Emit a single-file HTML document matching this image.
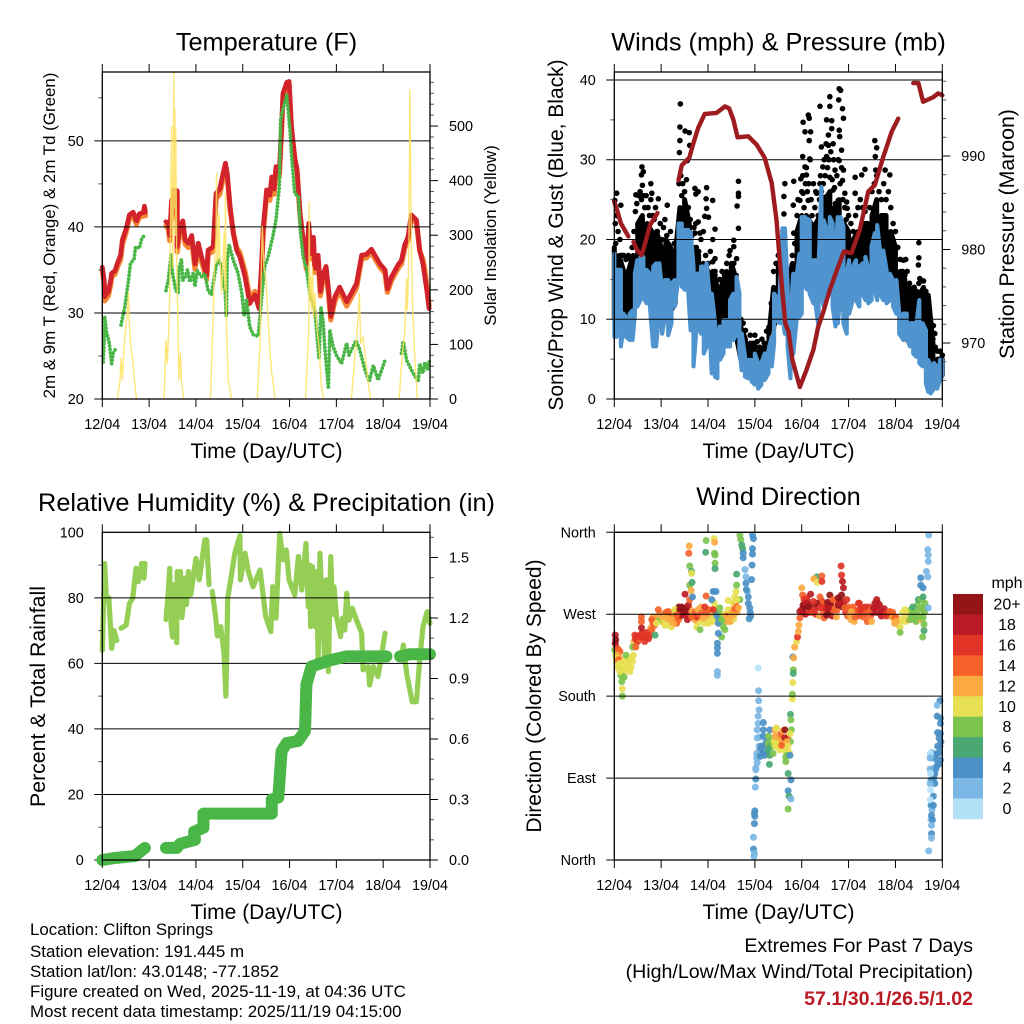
<!DOCTYPE html>
<html lang="en">
<head>
<meta charset="utf-8">
<title>Clifton Springs Station Meteogram</title>
<style>
html,body{margin:0;padding:0;background:#fff;}
svg{display:block;font-family:"Liberation Sans",Arial,sans-serif;fill:#000;}
</style>
</head>
<body>
<svg id="chart" xmlns="http://www.w3.org/2000/svg" width="1024" height="1024" viewBox="0 0 1024 1024">
<rect x="0" y="0" width="1024" height="1024" fill="#fff"/>
<text x="266.5" y="50.5" font-size="25.3" text-anchor="middle">Temperature (F)</text>
<text x="778.5" y="50.5" font-size="25.3" text-anchor="middle">Winds (mph) &amp; Pressure (mb)</text>
<text x="266.5" y="511" font-size="25.3" text-anchor="middle">Relative Humidity (%) &amp; Precipitation (in)</text>
<text x="778.5" y="505" font-size="25.3" text-anchor="middle">Wind Direction</text>
<text x="266.5" y="458" font-size="21" text-anchor="middle">Time (Day/UTC)</text>
<text x="778.5" y="458" font-size="21" text-anchor="middle">Time (Day/UTC)</text>
<text x="266.5" y="919" font-size="21" text-anchor="middle">Time (Day/UTC)</text>
<text x="778.5" y="919" font-size="21" text-anchor="middle">Time (Day/UTC)</text>
<text transform="translate(55,235.5) rotate(-90)" font-size="16.9" text-anchor="middle">2m &amp; 9m T (Red, Orange) &amp; 2m Td (Green)</text>
<text transform="translate(496,235.5) rotate(-90)" font-size="16.9" text-anchor="middle">Solar Insolation (Yellow)</text>
<text transform="translate(563,235) rotate(-90)" font-size="21" text-anchor="middle">Sonic/Prop Wind &amp; Gust (Blue, Black)</text>
<text transform="translate(1014,234) rotate(-90)" font-size="21.3" text-anchor="middle">Station Pressure (Maroon)</text>
<text transform="translate(45,696.5) rotate(-90)" font-size="21.3" text-anchor="middle">Percent &amp; Total Rainfall</text>
<text transform="translate(541,696) rotate(-90)" font-size="21" text-anchor="middle">Direction (Colored By Speed)</text>
<g font-size="16.9">
<text x="30" y="935">Location: Clifton Springs</text>
<text x="30" y="957">Station elevation: 191.445 m</text>
<text x="30" y="977">Station lat/lon: 43.0148; -77.1852</text>
<text x="30" y="997">Figure created on Wed, 2025-11-19, at 04:36 UTC</text>
<text x="30" y="1017">Most recent data timestamp: 2025/11/19 04:15:00</text>
</g>
<g font-size="19.6" text-anchor="end">
<text x="973" y="952">Extremes For Past 7 Days</text>
<text x="973" y="978">(High/Low/Max Wind/Total Precipitation)</text>
<text x="973" y="1005" font-weight="bold" fill="#bb1b24">57.1/30.1/26.5/1.02</text>
</g>
<text x="1007" y="588" font-size="16" text-anchor="middle">mph</text>
</svg>
<script>
// ---------- shared axis data ----------
const dayLabels = ['12/04','13/04','14/04','15/04','16/04','17/04','18/04','19/04'];

// ---------- temperature panel ----------
const tempTicks = [20,30,40,50];
const tempMinor = [25,35,45,55];
const solarTicks = [0,100,200,300,400,500];
const tempTime = [0,.04,.05,.13,.18,.20,.27,.32,.39,.43,.51,.58,.66,.73,.79,.88,.90,.92,null,
1.36,1.41,1.44,1.48,1.50,1.53,1.60,1.60,1.66,1.72,1.77,1.84,1.91,1.98,2.05,2.12,2.23,2.26,2.37,2.43,2.51,2.58,2.63,2.67,2.73,2.80,2.87,2.94,3.05,3.15,3.26,3.35,3.40,3.44,3.51,3.58,3.62,3.67,3.71,3.78,3.83,3.86,3.94,3.99,4.04,4.11,4.16,4.22,4.29,4.36,4.41,4.45,4.51,4.54,4.61,4.66,4.72,4.78,4.84,4.88,4.97,5.07,5.22,5.32,5.43,5.54,5.64,5.75,5.93,6.04,6.09,6.18,6.32,6.39,6.46,6.53,6.60,6.71,6.78,6.85,6.89,6.94,6.98];
const temp9m = [35.3,33.8,31.9,32.5,33.8,34.6,34.9,35.7,36.7,38.5,39.8,41.4,41.7,40.7,41.5,41.7,42.4,41.7,null,
40.6,40.4,39.0,43.1,41.5,44.3,44.2,37.7,40.0,40.7,38.5,38.1,39.0,35.7,38.1,36.5,34.4,37.3,37.7,43.9,44.4,46.2,47.4,46.2,42.3,39.2,37.3,36.5,34.2,31.1,32.1,30.5,35.4,40.0,44.3,43.7,45.8,44.4,47.0,46.2,51.6,55.5,56.8,56.9,51.6,48.1,46.6,41.9,38.5,35.7,40.4,36.9,38.8,35.2,36.7,32.5,34.6,35.4,32.3,29.6,31.9,33.0,31.3,32.3,33.4,36.7,36.8,37.4,35.7,35.0,32.8,34.2,35.6,36.1,37.9,38.8,41.4,40.8,37.3,35.7,34.2,32.3,30.5];
const temp2m = [35.0,33.3,31.4,32.0,33.3,34.2,34.5,35.3,36.2,38.0,39.4,41.0,41.3,40.3,41.1,41.3,42.0,41.3,null,
40.1,39.8,38.4,42.6,41.0,43.8,43.7,37.1,39.5,40.2,38.0,37.6,38.5,35.1,37.6,36.0,33.9,36.8,37.2,43.3,43.8,45.6,47.0,45.8,42.0,39.3,37.6,37.0,34.8,31.8,32.5,30.7,35.0,39.5,43.7,43.1,45.2,43.8,46.6,45.8,51.2,55.1,56.4,56.6,51.4,48.0,46.5,41.6,38.0,35.1,39.8,36.3,38.3,34.7,36.2,32.0,34.1,34.9,31.8,29.2,31.4,32.5,30.8,31.8,32.9,36.3,36.4,37.0,35.3,34.6,32.4,33.8,35.2,35.7,37.5,38.4,41.0,40.5,37.2,36.2,35.0,32.8,30.9];
const dewTime = [.02,.04,.05,.09,.15,.20,.23,.29,null,.40,.48,.56,.60,.68,.71,.79,.84,.91,null,
1.36,1.41,1.47,1.50,1.57,1.62,1.64,1.69,1.72,1.77,1.82,1.87,1.94,1.98,2.03,2.12,2.19,2.26,2.33,2.43,2.48,2.55,2.58,2.62,2.65,2.67,2.71,2.80,2.90,2.98,3.03,3.08,3.15,3.22,3.33,3.40,3.47,3.54,3.64,3.71,3.78,3.81,3.85,3.94,4.01,4.04,4.11,4.19,4.23,4.29,4.36,4.43,4.54,4.63,4.67,4.72,4.75,4.83,4.86,4.93,5.00,5.11,5.22,5.27,5.42,5.50,5.61,5.70,5.79,5.89,6.04,null,6.39,6.43,6.50,6.64,6.75,6.78,6.85,6.89,6.94,7.0];
const dewPoint = [24.3,26.8,29.6,27.8,26.5,24.1,25.3,25.9,null,28.6,30.7,33.8,35.7,36.3,37.7,37.5,38.6,39.1,null,
32.6,33.8,36.9,34.6,32.6,32.3,35.2,36.2,33.8,34.2,35.0,33.6,34.6,33.1,34.9,34.2,34.6,32.6,32.1,35.4,36.2,35.4,33.0,33.0,29.6,36.1,37.9,36.1,34.6,32.3,29.6,31.5,28.4,27.5,27.3,31.5,35.4,36.5,38.8,40.8,44.6,52.4,53.5,55.3,51.2,48.5,43.9,43.5,39.6,36.5,35.2,32.3,30.3,24.7,30.7,28.8,26.1,21.2,28.0,26.1,25.1,24.1,26.5,25.1,26.8,25.7,23.4,22.0,23.9,22.2,24.5,null,25.3,26.7,24.5,23.0,22.0,24.1,23.0,24.3,23.4,24.7];
const solarTime = [.32,.38,.40,.43,.47,.51,.53,.56,.58,.61,.65,.68,.73,null,
1.32,1.36,1.39,1.42,1.44,1.48,1.49,1.50,1.51,1.52,1.53,1.54,1.55,1.56,1.57,1.59,1.62,1.64,1.67,1.69,1.74,null,
2.31,2.36,2.40,2.43,2.44,2.45,2.47,2.49,2.51,2.55,2.58,2.60,2.62,2.63,2.65,2.69,2.76,null,
3.31,3.37,3.40,3.42,3.45,3.49,3.52,3.57,3.62,3.65,3.69,null,
4.34,4.38,4.40,4.41,4.42,4.43,4.45,4.47,4.49,4.51,4.54,4.58,4.63,4.68,4.73,null,
5.32,5.39,5.44,5.49,5.52,5.57,5.63,5.68,5.73,null,
6.34,6.41,6.46,6.50,6.51,6.53,6.55,6.57,6.59,6.61,6.63,6.68,6.73];
const solarFlux = [0,35,74,35,102,139,151,194,133,96,72,41,0,null,
0,108,65,132,194,499,300,316,240,470,598,350,530,300,493,254,108,35,84,35,0,null,
0,132,255,300,413,250,255,340,273,194,250,303,200,377,145,35,0,null,
0,102,255,316,242,224,181,102,47,29,0,null,
0,71,110,132,361,180,224,163,242,150,194,132,96,23,0,null,
0,71,120,194,102,114,71,29,0,null,
0,84,120,220,163,194,280,566,377,250,163,71,0];

// ---------- winds panel ----------
const windTicks = [0,10,20,30,40];
const windMinor = [5,15,25,35];
const pressureTicks = [970,980,990];
const pressureMinor = [966,968,972,974,976,978,982,984,986,988,992,994,996,998];
const gustCoreTime = [0,.1,.2,.3,.4,.5,.6,.7,.8,.9,1,1.1,1.2,1.3,1.4,1.5,1.6,1.7,1.8,1.9,2,2.1,2.2,2.3,2.4,2.5,2.6,2.7,2.8,2.9,3,3.1,3.2,3.3,3.4,3.5,3.6,3.7,3.8,3.9,4,4.1,4.2,4.3,4.4,4.5,4.6,4.7,4.8,4.9,5,5.1,5.2,5.3,5.4,5.5,5.6,5.7,5.8,5.9,6,6.1,6.2,6.3,6.4,6.5,6.6,6.7,6.8,6.9,7];
const gustCoreHigh = [19,18,16,16,18,22,23,22,21,21,19,20,19,18,24,25,22,19,18,17,16,16,14,14.5,16,17,15,9,7.5,7,7,6,6.5,8,14,17,18,14,17,21,23,23,22,22,23,25,26,24,25,22,21,20,21,22,22,23,25,23,23,21,19,16,15,14,13,13,14,13,7,5,5];
const gustCoreLow = [10,10,9,9,10,14,15,14,13,11,11,11,11,12,17,17,15,11,9,9,9,8,6,6,7,8,8,5,4,4,3,3,4,5,9,11,13,8,7,11,16,17,17,14,17,16,17,14,15,11,12,14,14,14,14,14,15,15,15,14,13,10,8,7,7,7,7,5,3,2,3];
const gustFillTime = [.02,.05,.08,.12,.03,.15,.2,.25,.3,.35,.38,.42,.45,.48,.52,.55,.58,.62,.65,.68,.72,.75,.78,.82,.85,.88,.92,.95,.98,1.02,1.05,1.08,1.12,1.16,1.2,1.24,1.28,1.32,
1.38,1.42,1.46,1.5,1.44,1.54,1.48,1.58,1.62,1.66,1.7,1.75,1.8,1.85,1.9,1.95,2.0,2.05,2.1,2.15,
2.25,2.3,2.35,2.4,2.45,2.5,2.55,2.6,2.65,2.7,2.75,2.8,2.9,3,3.05,3.1,3.15,3.2,3.25,3.3,3.35,3.4,3.45,3.5,3.55,3.6,3.65,3.7,3.75,3.8,3.85,
3.9,3.92,3.95,4.0,4.02,4.05,4.08,4.1,4.12,4.15,4.18,4.2,4.22,4.28,4.3,4.35,4.38,4.4,4.42,4.46,4.48,4.5,4.52,4.55,4.58,4.62,4.65,4.68,4.7,4.72,4.75,4.78,4.82,4.85,4.88,4.92,4.95,5,5.05,5.1,5.15,5.2,5.25,5.3,5.35,5.4,5.45,5.5,5.55,5.6,5.65,5.7,5.75,5.8,5.85,5.9,5.95,6,6.05,6.1,6.15,6.2,6.25,6.3,6.35,6.4,6.45,6.5,6.55,6.6,6.65,6.7,6.75,6.8,6.85,6.9,6.95,7];
const gustFillSpeed = [22,23,21,20,19.5,18,18,17.5,18,17.5,19,21,23.5,24.5,25.5,26,25,25.5,24,25.5,24,23,25,23,22.5,24,21,19.5,22,20,21.5,22.5,20.5,19,21,18.5,19.5,18,
27,28,27,26,25.5,27.5,23,24,22.5,20.5,21.5,19,18.5,20,21,18,17,18.5,17.2,15.5,
15,16,15.5,17,18,16.5,17,15.5,13,10,9.5,8.6,8,8,7.2,6.5,7.5,7,8.5,9,12,16,17,18,20,21,16,13,16,18,19.5,
23,25,21,26,28,24,27,29,26,27,30,25,23,24,26,23,25,28,26,27,30,28,32,29,30,31,27.5,30,26.5,24.5,28,30,27,29,25,24,22.5,23,22,21,23,24,25,24,23.5,22,24,26,27,28,26,25,27,25,26,24,22,21,19,17.5,16,15.5,16,14.5,13,14,13.5,14.5,13,14.8,13.5,11,8.5,7.5,6.5,6,6,5.5];
const gustTime = [1.41,1.40,1.51,1.60,1.40,1.39,1.61,1.56,1.72,1.79,1.97,1.96,1.74,1.97,2.10,1.93,2.01,1.74,1.79,2.15,2.10,1.83,1.72,2.65,2.65,2.65,2.62,2.65,2.55,2.55,2.47,2.61,2.15,2.15,3.64,3.62,3.83,3.98,3.82,3.62,3.83,.59,.62,.58,.60,.78,.46,.05,.01,.14,.94,1.13,.80,4.03,4.14,4.16,4.07,4.19,4.16,4.02,4.39,4.60,4.60,4.80,4.83,4.79,4.87,4.89,4.53,4.64,4.64,4.80,4.81,4.57,4.42,4.57,4.67,4.53,4.45,4.17,4.07,4.10,4.25,4.85,4.80,4.89,4.87,5.56,5.60,5.57,5.14,5.28,5.35,5.58,5.78,5.88,5.14,4.96,4.97,6.50,6.50,6.49,6.81,6.84,6.52,6.17,6.22,4.60,4.71,4.39,4.03,4.14,4.32,4.67,4.50,4.78,4.92,3.96];
const gustSpeed = [37.0,34.1,33.6,33.4,32.4,30.9,31.8,29.9,26.4,26.0,26.5,25.1,25.7,23.9,24.9,22.9,22.8,22.0,22.2,21.3,20.0,20.8,20.8,27.3,25.8,25.4,24.2,21.4,19.9,19.1,18.6,17.6,17.6,16.0,27.0,25.4,27.3,27.6,24.3,23.2,20.8,29.1,28.5,28.1,26.8,27.0,25.6,25.8,24.9,24.3,25.1,24.3,25.8,34.7,35.6,35.2,33.5,33.5,32.4,30.4,36.7,37.9,36.7,38.9,38.7,37.5,36.4,35.2,35.0,34.9,33.9,33.7,32.9,33.1,31.6,31.8,32.0,30.4,29.1,30.1,29.1,28.1,27.0,31.2,29.9,28.7,27.4,32.4,31.5,30.4,27.8,28.1,28.8,28.7,28.7,28.1,25.8,24.7,23.9,19.6,17.7,16.8,9.2,8.2,15.1,17.4,17.5,27.8,28.7,27.0,25.8,24.9,25.8,26.2,25.3,24.9,25.8,24.9];
const windTime = [0,.05,.14,.19,.25,.33,.39,.44,.49,.56,.62,.69,.76,.83,.89,.96,1.02,1.08,1.15,1.22,1.29,1.37,1.44,1.51,1.58,1.63,1.69,1.74,1.79,1.85,1.91,1.97,2.03,2.08,2.15,2.20,2.25,2.33,2.40,2.47,2.54,2.61,2.67,2.72,2.79,2.86,2.93,3.00,3.07,3.14,3.21,3.29,3.36,3.41,3.46,3.53,3.59,3.64,3.70,3.76,3.82,3.89,3.95,4.00,4.07,4.12,4.17,4.25,4.30,4.36,4.42,4.47,4.53,4.60,4.66,4.72,4.77,4.83,4.89,4.96,5.01,5.09,5.16,5.23,5.30,5.36,5.42,5.49,5.56,5.61,5.67,5.74,5.81,5.88,5.95,6.02,6.08,6.17,6.24,6.31,6.38,6.45,6.51,6.58,6.65,6.70,6.75,6.82,6.89,6.95,7.00];
const windHigh = [18.2,16.2,16.2,10.7,10.3,10.7,11.1,15.7,17.4,17.8,17.8,16.2,15.7,16.6,17,17,13.7,14.9,14.9,14.5,14.9,22,22,21.2,21.2,20.9,16.6,15.7,15.7,16.6,16.6,17,13.2,13.2,9.5,7.8,9.1,9.9,9.9,12.4,13.2,15.3,13.2,8.2,5.3,4.9,4.9,5.7,4.5,4.5,5.7,6.1,7.8,13.2,12.8,13.2,21.4,21.4,14.1,10.3,15.7,15.3,18.2,22.8,22.8,22.6,22.4,17.4,17.4,16.6,26.6,22.4,21.2,22.8,22,18.2,22.8,22.8,21.6,15.7,17.4,16.6,17.4,16.6,17,17.8,16.2,19.1,20.8,21.8,18.6,18.6,16.2,15.7,14.9,14.9,10.7,10.7,10.7,9.5,9.5,9.5,12.4,9.5,8.6,4.9,4.1,4.5,4.1,4.9,4.9];
const windLow = [7.8,7.8,6.6,8.6,7.8,7.4,7.4,10.7,11.6,12.4,12.8,12,11.6,6.6,6.6,10.7,8.2,10.3,8,9.5,11.6,15.3,14.1,13.7,13.2,8.6,4.1,7.8,9.1,8.2,5.7,6.6,9.1,3.2,2.8,2.6,4.9,5.7,6.6,6.6,7.4,8.2,6.1,3.6,2.8,2.6,2.2,1.8,1.3,1.8,2.4,3.2,4.1,7,9.9,9.5,10.3,8.2,6.6,2.6,5.7,9.9,10.3,10.7,14.1,13.7,13.2,12,11.6,9.1,13.2,11.6,13.2,14.1,11.6,9.1,9.5,13.2,9.5,8.2,10.7,12.4,12.4,11.6,13.2,12.4,12,12.4,13.7,12.4,13.2,12.4,12,12.4,11.6,10.7,8.2,7.4,7.8,6.6,5.7,5.3,4.5,4.1,2,.9,.7,1.3,1.3,2.4,2.8];
const pressureTime = [0,.06,.14,.21,.30,null,.41,.49,.58,.65,.76,.92,null,1.37,1.44,1.60,1.69,1.79,1.93,2.18,2.36,2.45,2.54,2.63,2.86,3.04,3.21,3.36,3.46,3.53,3.59,3.65,3.72,3.80,3.96,4.10,4.25,4.35,4.46,4.60,4.78,4.90,5.06,5.24,5.42,5.56,5.74,5.92,6.06,null,6.38,6.49,6.59,6.81,6.91,7.0];
const pressureMb = [985.1,984.2,982.8,982.2,981.4,null,980.8,979.9,979.4,980.5,982.6,983.9,null,987.4,989.0,989.8,991.4,993.0,994.5,994.6,995.3,995.1,993.9,992.0,992.1,991.2,989.8,987.1,983.2,978.9,975.3,972.1,971.2,968.2,965.3,967.1,969.3,971.7,973.3,975.7,978.2,979.8,979.6,982.1,986.2,986.9,989.9,992.6,994.0,null,997.8,997.8,995.8,996.3,996.7,996.5];

// ---------- humidity panel ----------
const humidityTicks = [0,20,40,60,80,100];
const humidityMinor = [10,30,50,70,90];
const rainTicks = [0,.3,.6,.9,1.2,1.5];
const rainTickLabels = ['0.0','0.3','0.6','0.9','1.2','1.5'];
const rainMinor = [.1,.2,.4,.5,.7,.8,1,1.1,1.3,1.4,1.6];
const humidityTime = [0,.05,.09,.14,.20,.25,.31,null,.40,.51,.58,.65,.72,.77,.84,.91,.89,null,
1.36,1.40,1.44,1.47,1.50,1.53,1.59,1.60,1.64,1.67,1.70,1.72,1.76,1.80,1.84,1.89,2.00,2.07,2.19,2.23,2.28,null,2.35,2.43,2.46,2.53,2.60,2.64,2.68,2.76,2.83,2.94,2.95,3.05,3.12,3.22,3.37,3.49,3.60,3.64,3.71,3.79,3.86,3.93,3.99,4.11,4.19,4.26,4.35,4.38,4.40,4.43,4.45,4.49,4.52,4.55,4.58,4.61,4.65,4.68,4.72,4.75,4.78,4.80,4.83,4.88,4.92,4.95,5.00,5.09,5.13,5.18,5.22,5.27,5.34,5.43,5.54,5.57,5.68,5.71,5.79,5.89,6.04,null,6.39,6.43,6.50,6.62,6.71,6.78,6.85,6.94,7];
const humidityPct = [64,90.5,79,80,64.6,70,67,null,70.7,71.7,78.3,79.9,89,85,90.5,90.5,86,null,
73.4,80,89,72,68,84,66.3,88,84,88,74,76.3,86,78,88,81,92,85.5,97.7,97.7,84,null,82,73,68.4,71.2,63,50,80,87,93.6,99,85.5,93.6,88,83.4,88.5,74.3,69.7,83.4,73.8,99.7,91.6,94.6,85.5,80.9,92.6,82.4,96.6,85,77.3,90,71.2,89.5,78,71.2,88,60,93.6,82,73.2,60,85.5,70,57.5,92.6,75,83.4,74.3,68.2,73.8,70.2,81.4,73.2,76.8,73.2,69.2,58,59,53.4,59,56,69.2,null,61,65.6,57,48.3,48.3,61,71.2,75.8,72.2];
const rainTime = [0,.27,.70,.80,.91,null,1.36,1.59,1.66,1.98,1.96,2.16,2.16,3.62,3.62,3.76,3.83,3.94,4.18,4.33,4.36,4.47,4.86,5.22,6.07,null,6.36,6.57,7.0];
const rainTotal = [0,.01,.02,.04,.06,null,.06,.06,.08,.10,.14,.16,.23,.23,.30,.31,.54,.58,.59,.64,.87,.96,.99,1.01,1.01,null,1.01,1.02,1.02];

// ---------- direction panel ----------
const directionTicks = [0,90,180,270,360];
const directionLabels = ['North','East','South','West','North'];
const dirFillTime = [.03,.05,.08,.11,.13,.15,.18,.2,.23,.27,.3,.33,.36,.39,.42,.45,.5,.53,.57,.6,.65,.7,.73,.78,.82,.86,.9,.93,.97,1.0,1.03,1.07,1.1,1.13,1.17,1.2,1.24,1.27,1.3,1.33,1.36,1.38,1.42,1.45,1.49,1.53,1.57,1.6,1.63,1.68,1.72,1.75,1.78,1.82,1.85,1.88,1.92,1.95,1.99,2.02,2.06,2.1,2.13,2.17,2.22,2.25,2.28,2.32,2.35,2.38,2.42,2.45,2.48,2.52,2.55,2.58,2.62,
3.1,3.12,3.15,3.2,3.24,3.26,3.28,3.34,3.36,3.38,3.41,3.44,3.48,3.5,3.52,3.55,3.58,3.6,3.62,3.65,3.7,3.73,3.76,3.68,3.06,3.09,3.05,
4.0,4.03,4.06,4.08,4.12,4.16,4.2,4.22,4.27,4.3,4.35,4.38,4.42,4.45,4.48,4.52,4.55,4.58,4.62,4.65,4.7,4.72,4.75,4.78,4.82,4.87,4.9,4.94,4.98,5.02,5.05,5.09,5.12,5.16,5.2,5.23,5.27,5.32,5.36,5.4,5.43,5.47,5.52,5.56,5.6,5.66,5.7,5.76,5.8,5.84,5.9,5.94,5.98,6.03,6.07,6.12,6.16,6.22,6.26,6.28,6.33,6.38,6.4,6.44,6.47,6.5,6.53,6.56,6.6,6.62,
6.85,6.9,6.92,6.8,6.78,6.76,6.82,6.86,6.94,6.97,6.9,6.77,6.78,6.74,6.76,6.78,6.76,2.88,2.9,2.84];
const dirFillDegrees = [225,218,212,222,210,205,212,207,214,222,210,220,212,218,240,243,240,243,245,250,240,250,243,255,262,258,262,268,270,262,268,260,272,258,266,270,262,272,264,260,272,278,268,272,270,270,272,268,275,270,272,263,266,262,278,268,260,272,262,275,268,262,283,272,268,262,270,262,270,268,262,270,262,275,265,282,272,
135,125,118,125,130,118,128,125,132,125,130,125,135,125,132,138,130,142,125,120,135,118,130,115,115,125,107,
275,272,278,270,285,272,280,272,275,270,278,268,285,282,266,275,283,272,280,268,276,285,274,280,285,278,283,272,268,276,264,278,262,274,268,282,270,276,270,262,278,268,272,282,272,280,268,276,268,272,268,272,260,266,258,262,272,262,272,264,275,266,272,262,280,268,264,278,275,272,
115,125,105,100,95,88,92,100,118,130,140,112,118,100,60,55,45,265,272,295];
const dirFillSpeed = [10,12,10,12,8,10,10,10,10,10,10,8,10,10,12,16,16,14,16,16,16,16,16,12,12,14,12,12,12,10,14,12,14,10,12,14,10,12,14,14,16,20,18,20,20,18,14,16,12,12,14,12,14,10,12,12,10,14,10,14,10,10,10,6,6,8,8,8,10,12,12,14,12,12,10,14,12,
2,4,4,4,4,4,8,6,8,8,10,10,12,10,12,14,12,12,12,10,14,10,8,8,2,2,2,
18,20,20,18,18,16,20,14,16,16,18,12,16,14,14,20,20,20,20,18,14,14,14,20,20,20,18,16,14,14,12,14,12,14,14,16,16,16,16,14,16,14,18,18,18,18,18,18,16,16,14,14,12,12,12,10,10,10,10,12,8,8,8,8,8,10,12,8,8,8,
4,4,4,4,4,4,4,4,4,4,4,2,2,2,4,2,2,4,4,2];
const dirTime = [.02,.03,.02,.01,.05,.09,.12,.06,.04,.09,.11,.06,.16,.21,.25,.30,.37,.41,.26,.33,.14,.21,.16,.17,.17,.12,.39,.46,.44,.48,.55,.58,.58,.58,.62,.69,.76,.80,.87,.83,.90,.94,.97,1.05,1.12,1.15,1.22,1.22,1.29,1.29,1.37,1.40,1.47,1.54,1.58,1.51,1.40,1.56,1.61,1.67,1.72,1.76,1.76,1.79,1.83,1.86,1.96,1.93,1.97,2.04,2.01,2.11,2.17,2.08,2.15,2.11,2.18,2.22,2.25,2.29,2.33,2.36,2.29,2.22,2.20,2.20,2.20,2.20,2.20,2.43,2.43,2.50,2.54,2.57,2.61,2.57,2.60,2.61,2.61,2.68,2.65,
.83,.80,.90,1.01,1.08,1.19,1.26,1.33,1.44,1.51,1.65,1.83,1.90,2.08,2.47,2.54,2.61,
1.60,1.59,1.61,1.65,1.65,1.61,1.66,1.64,1.96,1.95,2.13,2.14,2.14,2.15,2.15,2.15,2.68,2.70,2.72,2.74,2.75,2.75,2.95,2.97,2.95,2.95,2.94,2.93,2.79,2.81,2.81,2.82,2.86,2.86,2.89,2.91,
3.07,3.08,3.08,3.09,3.07,3.07,3.05,3.05,3.18,3.18,3.18,3.14,3.11,3.04,3.04,3.12,3.21,3.32,3.29,3.29,3.32,3.31,3.43,3.46,3.43,3.46,3.39,3.53,3.57,3.64,3.64,3.68,3.71,3.78,3.75,3.66,3.66,3.75,3.71,3.77,3.71,3.73,3.77,3.71,3.76,3.77,3.02,3.02,3.02,3.01,3.00,2.99,3.00,2.99,2.97,2.97,2.99,2.98,
3.80,3.80,3.81,3.82,3.82,3.81,3.83,3.85,3.89,3.91,3.93,3.94,3.96,3.96,
4.18,4.32,4.39,4.46,4.50,4.67,4.81,4.92,5.03,5.10,5.17,5.28,5.31,5.45,5.53,5.63,5.74,5.92,5.95,6.13,6.24,6.34,6.45,6.52,4.03,4.10,
4.00,4.02,4.05,4.09,4.14,4.19,4.25,4.32,4.26,4.33,4.43,4.43,4.39,4.42,4.53,4.60,4.60,4.57,4.67,4.74,4.78,4.85,4.84,4.85,4.87,4.89,4.99,4.96,5.06,5.14,5.21,5.24,5.35,5.38,5.49,5.60,5.60,5.70,5.81,5.88,5.99,6.02,6.10,6.10,6.20,6.20,6.31,6.37,6.42,6.49,6.49,6.56,6.63,6.59,6.61,6.61,6.58,6.70,
6.71,6.69,6.70,6.70,6.66,6.69,6.54,6.54,6.59,6.59,
6.95,6.89,6.89,6.96,6.96,6.96,6.93,6.95,6.89,6.96,6.88,6.88,6.84,6.81,6.84,6.74,6.74,6.74,6.75,6.75,6.81,6.74,6.81,6.77,6.79,6.77,6.77,6.77,6.71];
const dirDegrees = [247,242,238,231,233,231,229,225,222,220,216,212,216,218,225,218,223,225,212,207,203,201,196,188,180,207,234,234,247,245,247,255,262,267,245,245,247,253,247,260,267,275,264,264,266,273,256,264,267,275,264,275,277,277,280,292,269,264,286,289,264,267,256,275,253,271,290,278,271,267,260,295,295,286,278,275,267,260,277,264,256,253,245,249,238,233,227,207,203,275,285,271,282,275,278,289,295,302,314,286,277,
267,264,260,267,258,264,260,269,278,273,267,269,266,264,266,269,286,
345,337,323,317,315,302,305,296,351,338,353,349,337,335,326,320,357,352,346,342,337,332,357,353,342,336,324,308,319,311,304,297,289,282,277,268,
211,186,175,165,158,150,143,134,151,143,136,125,121,117,112,114,115,143,136,121,115,105,143,145,136,128,117,121,126,143,134,130,125,143,139,113,108,115,95,88,76,70,67,56,160,154,101,99,89,80,54,51,48,40,25,12,7,4,
177,182,195,209,205,223,222,234,240,245,251,258,266,273,
275,282,277,271,277,275,282,277,269,274,271,276,267,275,277,282,271,269,266,264,271,269,269,267,280,288,
299,291,286,282,278,292,284,311,309,305,312,306,289,278,269,291,282,277,286,267,288,291,323,313,306,299,278,286,273,267,282,275,278,271,262,286,278,273,271,273,267,262,256,250,275,267,264,278,264,275,286,286,282,266,259,252,245,277,
357,341,335,328,317,311,310,302,299,289,
175,170,158,156,150,139,134,125,117,110,110,103,95,88,84,84,117,112,95,77,70,66,60,49,44,38,29,24,10];
const dirSpeed = [18,20,20,8,16,14,14,12,10,14,10,10,10,10,8,10,10,10,10,10,8,8,8,10,8,10,8,14,16,16,16,18,14,14,16,16,16,14,6,14,12,14,8,10,12,14,10,12,12,10,14,20,20,20,18,18,18,18,14,4,12,16,10,12,8,14,14,16,14,12,10,4,4,4,10,16,4,4,8,8,8,8,8,4,4,4,4,2,2,10,10,12,10,14,14,10,10,8,6,8,12,
12,14,10,12,10,12,12,14,20,20,14,14,12,10,12,12,10,
12,14,8,6,10,8,6,12,8,6,10,12,8,8,8,6,8,8,6,6,4,4,4,4,4,4,4,4,2,2,4,4,4,4,4,4,
0,2,2,2,2,2,2,2,4,4,4,4,4,2,2,4,4,4,8,6,6,6,12,10,12,10,8,10,14,20,18,12,10,8,10,8,8,4,6,4,4,6,2,8,6,8,2,2,4,2,4,4,4,4,2,4,2,2,
10,8,10,8,6,4,12,12,10,16,12,12,14,18,
16,20,16,14,18,14,18,14,12,14,14,16,14,14,18,18,16,14,12,10,10,8,8,8,20,16,
12,14,16,18,20,18,16,6,12,10,14,16,14,16,20,20,20,18,14,12,20,20,16,16,18,18,14,16,12,14,16,16,16,14,12,18,18,18,16,14,14,12,10,8,10,10,8,6,8,8,6,8,8,8,8,6,8,2,
2,2,2,2,2,2,4,4,4,6,
4,2,4,4,4,4,4,4,4,4,4,4,4,4,4,2,0,2,0,0,4,0,4,4,4,2,4,2,2];

// ---------- colorbar ----------
const speedLevels = [20,18,16,14,12,10,8,6,4,2,0];
const speedLabels = ['20+','18','16','14','12','10','8','6','4','2','0'];
const speedColors = ['#931518','#bb1b24','#e13427','#f4622a','#fbaa42','#e7e054','#7cc34e','#4aa872','#4b90c6','#7bb7e4','#b3e2f8'];

// ---------- drawing helpers ----------
const NS = 'http://www.w3.org/2000/svg';
const root = document.getElementById('chart');
function mk(tag, attrs, parent) {
  const e = document.createElementNS(NS, tag);
  for (const k in attrs) e.setAttribute(k, attrs[k]);
  (parent || root).appendChild(e);
  return e;
}
function linear(d0, d1, r0, r1) {
  return function (v) { return r0 + (v - d0) * (r1 - r0) / (d1 - d0); };
}
function linePath(ts, vs, xf, yf) {
  let d = '', pen = false;
  const n = Math.min(ts.length, vs.length);
  for (let i = 0; i < n; i++) {
    if (ts[i] === null || vs[i] === null) { pen = false; continue; }
    d += (pen ? 'L' : 'M') + xf(ts[i]).toFixed(2) + ' ' + yf(vs[i]).toFixed(2);
    pen = true;
  }
  return d;
}
function zigzagPath(ts, highs, lows, xf, yf) {
  let d = '';
  const n = Math.min(ts.length, highs.length, lows.length);
  for (let i = 0; i < n; i++) {
    const a = i % 2 ? lows[i] : highs[i];
    const b = i % 2 ? highs[i] : lows[i];
    d += (i ? 'L' : 'M') + xf(ts[i]).toFixed(2) + ' ' + yf(a).toFixed(2);
    d += 'L' + xf(ts[i]).toFixed(2) + ' ' + yf(b).toFixed(2);
  }
  return d;
}
function drawFrameAndDays(L, R, T, B, xf, labelY) {
  const frame = mk('rect', {x: L, y: T, width: R - L, height: B - T, fill: 'none', stroke: '#000', 'stroke-width': 1.3});
  
  
  dayLabels.forEach(function (lab, i) {
    const px = xf(i);
    const top = mk('line', {x1: px, x2: px, y1: T - 8, y2: T, stroke: '#000', 'stroke-width': 1});
    
    
    const bottom = mk('line', {x1: px, x2: px, y1: B, y2: B + 8, stroke: '#000', 'stroke-width': 1});
    
    
    const t = mk('text', {x: px, y: labelY, 'font-size': 14.4, 'text-anchor': 'middle'});
    t.textContent = lab;
    
    
  });
}
function drawGrid(values, L, R, yf) {
  values.forEach(function (v) {
    const py = yf(v);
    const g = mk('line', {x1: L - 8, x2: R, y1: py, y2: py, stroke: '#000', 'stroke-width': 1});
    
    
  });
}
function drawLeftLabels(values, labels, L, yf) {
  values.forEach(function (v, i) {
    const t = mk('text', {x: L - 18.5, y: yf(v) + 5, 'font-size': 14.4, 'text-anchor': 'end'});
    t.textContent = labels ? labels[i] : String(v);
    
    
  });
}
function drawMinorLeft(values, L, yf) {
  values.forEach(function (v) {
    const m = mk('line', {x1: L - 4, x2: L, y1: yf(v), y2: yf(v), stroke: '#555', 'stroke-width': 1});
    
    
  });
}
function drawRight(values, labels, minors, R, yf) {
  values.forEach(function (v, i) {
    const py = yf(v);
    const tick = mk('line', {x1: R, x2: R + 8, y1: py, y2: py, stroke: '#000', 'stroke-width': 1});
    
    
    const t = mk('text', {x: R + 19, y: py + 5, 'font-size': 14.4});
    t.textContent = labels ? labels[i] : String(v);
    
    
  });
  minors.forEach(function (v) {
    const m = mk('line', {x1: R, x2: R + 4, y1: yf(v), y2: yf(v), stroke: '#555', 'stroke-width': 1});
    
    
  });
}

// ---------- panel 1: temperature ----------
(function () {
  const L = 102.3, R = 430, T = 72, B = 399;
  const x = linear(0, 7, L, R);
  const y = linear(20, 58, B, T);
  const ySolar = linear(0, 599, B, T);
  const orange = mk('path', {d: linePath(tempTime, temp2m, x, y), fill: 'none', stroke: '#f58634', 'stroke-width': 5.2, 'stroke-linejoin': 'round', 'stroke-linecap': 'round'});
  
  
  const red = mk('path', {d: linePath(tempTime, temp9m, x, y), fill: 'none', stroke: '#d2232a', 'stroke-width': 4.8, 'stroke-linejoin': 'round', 'stroke-linecap': 'round'});
  
  
  const dew = mk('path', {d: linePath(dewTime, dewPoint, x, y), fill: 'none', stroke: '#4bb648', 'stroke-width': 3.8, 'stroke-linecap': 'round', 'stroke-dasharray': '0 3.6'});
  
  
  drawGrid([30,40,50], L, R, y);
  const tick20 = mk('line', {x1: L - 8, x2: L, y1: y(20), y2: y(20), stroke: '#000', 'stroke-width': 1});
  
  
  drawMinorLeft(tempMinor, L, y);
  drawLeftLabels(tempTicks, null, L, y);
  const solar = mk('path', {d: linePath(solarTime, solarFlux, x, ySolar), fill: 'none', stroke: '#fde25f', 'stroke-width': 1.4, 'stroke-linejoin': 'round', opacity: .85});
  
  
  const solarMinor = [];
  for (let v = 20; v <= 580; v += 20) { if (v % 100) solarMinor.push(v); }
  drawRight(solarTicks, null, solarMinor, R, ySolar);
  drawFrameAndDays(L, R, T, B, x, 429);
})();

// ---------- panel 2: winds & pressure ----------
(function () {
  const L = 614.3, R = 942.3, T = 72, B = 399;
  const x = linear(0, 7, L, R);
  const y = linear(0, 41, B, T);
  const yP = linear(970, 990, 343, 156);
  const core = mk('path', {d: zigzagPath(gustCoreTime, gustCoreHigh, gustCoreLow, x, y), fill: 'none', stroke: '#000', 'stroke-width': 5, 'stroke-linejoin': 'round', 'stroke-linecap': 'round'});
  
  
  gustFillTime.forEach(function (t, i) {
    const dot = mk('circle', {cx: x(t), cy: y(gustFillSpeed[i]), r: 2.8, fill: '#000'});
    
    
  });
  gustTime.forEach(function (t, i) {
    const dot = mk('circle', {cx: x(t), cy: y(gustSpeed[i]), r: 2.8, fill: '#000'});
    
    
  });
  const wind = mk('path', {d: zigzagPath(windTime, windHigh, windLow, x, y), fill: 'none', stroke: '#4f94cf', 'stroke-width': 4.2, 'stroke-linejoin': 'round', 'stroke-linecap': 'round'});
  
  
  drawGrid([10,20,30,40], L, R, y);
  const tick0 = mk('line', {x1: L - 8, x2: L, y1: y(0), y2: y(0), stroke: '#000', 'stroke-width': 1});
  
  
  drawMinorLeft(windMinor, L, y);
  drawLeftLabels(windTicks, null, L, y);
  const press = mk('path', {d: linePath(pressureTime, pressureMb, x, yP), fill: 'none', stroke: '#9e1b20', 'stroke-width': 4.4, 'stroke-linejoin': 'round', 'stroke-linecap': 'round'});
  
  
  drawRight(pressureTicks, null, pressureMinor, R, yP);
  drawFrameAndDays(L, R, T, B, x, 429);
})();

// ---------- panel 3: humidity & rain ----------
(function () {
  const L = 102.3, R = 430, T = 532.3, B = 860;
  const x = linear(0, 7, L, R);
  const y = linear(0, 100, B, T);
  const yRain = linear(0, 1.625, B, T);
  const rh = mk('path', {d: linePath(humidityTime, humidityPct, x, y), fill: 'none', stroke: '#94ce55', 'stroke-width': 5.2, 'stroke-linejoin': 'round', 'stroke-linecap': 'round'});
  
  
  drawGrid([20,40,60,80], L, R, y);
  const tick0 = mk('line', {x1: L - 8, x2: L, y1: y(0), y2: y(0), stroke: '#000', 'stroke-width': 1});
  
  
  drawMinorLeft(humidityMinor, L, y);
  drawLeftLabels(humidityTicks, null, L, y);
  const rain = mk('path', {d: linePath(rainTime, rainTotal, x, yRain), fill: 'none', stroke: '#4bb648', 'stroke-width': 12, 'stroke-linejoin': 'round', 'stroke-linecap': 'round'});
  
  
  drawRight(rainTicks, rainTickLabels, rainMinor, R, yRain);
  drawFrameAndDays(L, R, T, B, x, 890);
})();

// ---------- panel 4: wind direction ----------
(function () {
  const L = 614.3, R = 942.3, T = 532.3, B = 860;
  const x = linear(0, 7, L, R);
  const y = linear(0, 360, B, T);
  function colorFor(speed) {
    let idx = speedLevels.indexOf(Math.min(20, Math.round(speed / 2) * 2));
    if (idx < 0) idx = 10;
    return speedColors[idx];
  }
  dirFillTime.forEach(function (t, i) {
    const dot = mk('circle', {cx: x(t), cy: y(dirFillDegrees[i]), r: 3.5, fill: colorFor(dirFillSpeed[i]), opacity: .92});
    
    
  });
  const n = Math.min(dirTime.length, dirDegrees.length, dirSpeed.length);
  for (let i = 0; i < n; i++) {
    const dot = mk('circle', {cx: x(dirTime[i]), cy: y(dirDegrees[i]), r: 3.5, fill: colorFor(dirSpeed[i]), opacity: .92});
    
    
  }
  drawGrid(directionTicks, L, R, y);
  drawLeftLabels(directionTicks, directionLabels, L, y);
  drawFrameAndDays(L, R, T, B, x, 890);
})();

// ---------- colorbar ----------
(function () {
  const top = 594, h = 20.45;
  speedLabels.forEach(function (lab, i) {
    const box = mk('rect', {x: 953, y: top + i * h, width: 30, height: h + .3, fill: speedColors[i]});
    
    
    const t = mk('text', {x: 1007, y: top + i * h + 15.5, 'font-size': 16, 'text-anchor': 'middle'});
    t.textContent = lab;
    
    
  });
})();
</script>
</body>
</html>
